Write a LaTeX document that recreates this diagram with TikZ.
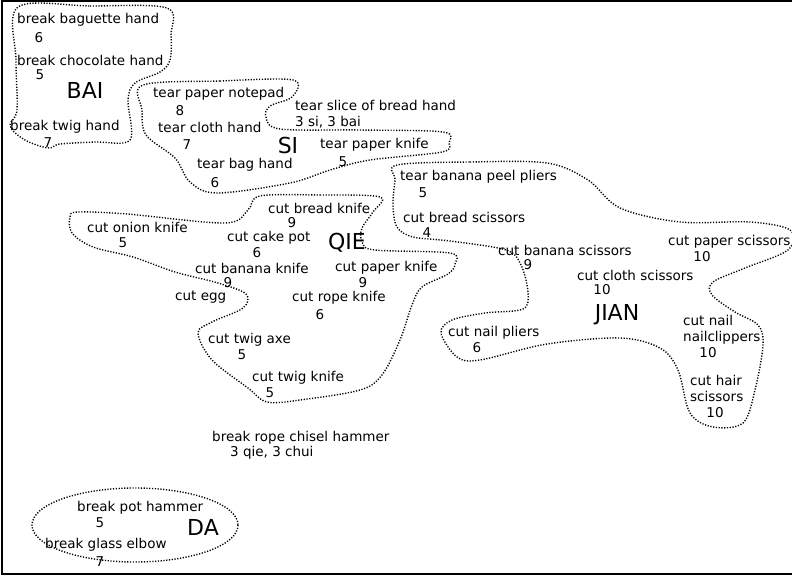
\documentclass[tikz,border=0pt]{standalone}
\usepackage{fontspec}
\setmainfont{DejaVu Sans}
\tikzset{
	item/.style={anchor=west, inner sep=0pt, font=\fontsize{13.5bp}{16bp}\selectfont},
	num/.style={inner sep=0pt, font=\fontsize{13.5bp}{16bp}\selectfont},
	groupname/.style={inner sep=0pt, font=\fontsize{22bp}{24bp}\selectfont},
	blob/.style={line width=1.4pt, dash pattern=on 1.2pt off 1.6pt}
}
\begin{document}
\begin{tikzpicture}[x=1bp, y=-1bp]
	\useasboundingbox (0,0) rectangle (792,576);
	\draw [line width=1.5pt] (792,1) -- (2,1) -- (2,574) -- (792,574);

	% BAI
	\draw [blob] plot [smooth cycle, tension=0.55] coordinates {(18,7) (90,6) (167,8) (171,35) (170,60) (160,72) (135,83) (128,100) (130,140) (95,142) (60,144) (48,148) (25,140) (10,126) (17,110) (16,60)};
	\node [item] (baguette) at (17,20) {break baguette hand};
	\node [num] (baguette-n) at (39,38) {6};
	\node [item] (chocolate) at (17,60) {break chocolate hand};
	\node [num] (chocolate-n) at (40,75) {5};
	\node [groupname] (bai) at (85,90) {BAI};
	\node [item] (twig) at (10,127) {break twig hand};
	\node [num] (twig-n) at (48,143) {7};

	% SI
	\draw [blob] plot [smooth cycle, tension=0.55] coordinates {(143,85) (220,81) (293,80) (292,97) (270,106) (266,117) (280,129) (360,130) (443,132) (449,143) (442,152) (370,160) (330,170) (290,183) (217,193) (190,182) (175,158) (146,135) (142,110)};
	\node [item] (notepad) at (153,94) {tear paper notepad};
	\node [num] (notepad-n) at (180,111) {8};
	\node [item] (slice) at (295,105) {tear slice of bread hand};
	\node [item] (slice-n) at (295,122) {3 si, 3 bai};
	\node [item] (cloth) at (158,127) {tear cloth hand};
	\node [num] (cloth-n) at (187,145) {7};
	\node [groupname] (si) at (288,145) {SI};
	\node [item] (tearknife) at (320,145) {tear paper knife};
	\node [num] (tearknife-n) at (343,162) {5};
	\node [item] (bag) at (197,165) {tear bag hand};
	\node [num] (bag-n) at (215,183) {6};

	% QIE
	\draw [blob] plot [smooth cycle, tension=0.55] coordinates {(260,196) (320,195) (380,197) (373,212) (362,228) (362,242) (375,250) (450,253) (455,264) (448,274) (422,287) (412,305) (400,340) (382,375) (360,390) (300,400) (267,402) (248,388) (212,360) (198,333) (212,322) (243,308) (246,294) (218,283) (175,272) (133,257) (93,247) (72,233) (70,217) (78,212) (127,214) (225,223) (248,210)};
	\node [item] (breadknife) at (268,208) {cut bread knife};
	\node [num] (breadknife-n) at (292,223) {9};
	\node [item] (onion) at (87,227) {cut onion knife};
	\node [num] (onion-n) at (123,243) {5};
	\node [item] (cake) at (227,238) {cut cake pot};
	\node [num] (cake-n) at (257,253) {6};
	\node [groupname] (qie) at (347,243) {QIE};
	\node [item] (bananaknife) at (195,268) {cut banana knife};
	\node [num] (bananaknife-n) at (228,283) {9};
	\node [item] (cutknife) at (335,268) {cut paper knife};
	\node [num] (cutknife-n) at (363,283) {9};
	\node [item] (egg) at (175,297) {cut egg};
	\node [item] (rope) at (292,298) {cut rope knife};
	\node [num] (rope-n) at (320,315) {6};
	\node [item] (twigaxe) at (208,340) {cut twig axe};
	\node [num] (twigaxe-n) at (242,355) {5};
	\node [item] (twigknife) at (252,378) {cut twig knife};
	\node [num] (twigknife-n) at (270,393) {5};

	% JIAN
	\draw [blob] plot [smooth cycle, tension=0.55] coordinates {(397,165) (470,162) (547,163) (588,180) (620,208) (680,222) (750,222) (790,230) (788,250) (745,268) (713,282) (712,295) (735,312) (758,325) (763,345) (755,390) (743,423) (713,427) (690,413) (678,370) (660,348) (620,338) (547,344) (480,360) (457,357) (441,333) (452,320) (485,313) (523,309) (528,292) (521,265) (506,250) (450,241) (413,237) (397,227) (393,205) (395,180)};
	\node [item] (peel) at (400,177) {tear banana peel pliers};
	\node [num] (peel-n) at (423,193) {5};
	\node [item] (breadsc) at (403,217) {cut bread scissors};
	\node [num] (breadsc-n) at (427,233) {4};
	\node [item] (bananasc) at (498,250) {cut banana scissors};
	\node [num] (bananasc-n) at (528,265) {9};
	\node [item] (papersc) at (668,242) {cut paper scissors};
	\node [num] (papersc-n) at (702,257) {10};
	\node [item] (clothsc) at (577,275) {cut cloth scissors};
	\node [num] (clothsc-n) at (602,290) {10};
	\node [groupname] (jian) at (617,315) {JIAN};
	\node [item] (nailpl) at (448,333) {cut nail pliers};
	\node [num] (nailpl-n) at (477,348) {6};
	\node [item, align=left] (nailcl) at (683,330) {cut nail\\nailclippers};
	\node [num] (nailcl-n) at (708,353) {10};
	\node [item, align=left] (hair) at (690,388) {cut hair\\scissors};
	\node [num] (hair-n) at (715,413) {10};

	% DA
	\node [item] (chisel) at (212,438) {break rope chisel hammer};
	\node [item] (chisel-n) at (230,453) {3 qie, 3 chui};
	\draw [blob] (135,525) ellipse [x radius=103, y radius=37];
	\node [item] (pot) at (77,508) {break pot hammer};
	\node [num] (pot-n) at (100,523) {5};
	\node [groupname] (da) at (203,527) {DA};
	\node [item] (glass) at (45,545) {break glass elbow};
	\node [num] (glass-n) at (100,562) {7};
\end{tikzpicture}
\end{document}
